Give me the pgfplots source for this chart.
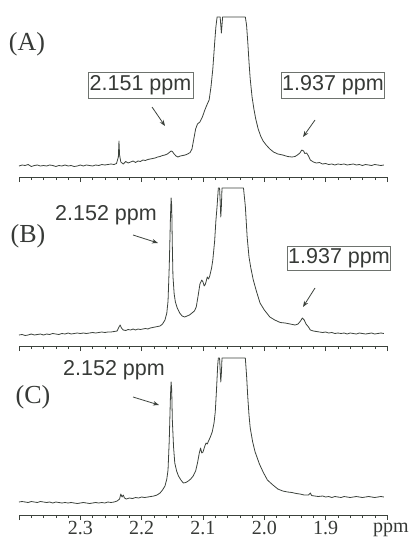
\documentclass[border=0pt]{standalone}
\usepackage{pgfplots}
\pgfplotsset{compat=1.18}
\usepackage{fontspec}
\setmainfont{Liberation Serif}
\newfontfamily\annfont{Liberation Sans}
\usetikzlibrary{arrows.meta}
\definecolor{linec}{RGB}{60,66,60}
\definecolor{txtc}{RGB}{55,58,55}
\definecolor{boxc}{RGB}{110,115,110}
\pgfplotsset{spec/.style={scale only axis, width=368pt, height=168pt,
  xmin=1.8, xmax=2.4, ymin=0, ymax=168, x dir=reverse,
  axis x line=bottom, axis y line=none,
  axis line style={-, draw=linec, line width=0.6pt},
  tick align=outside, xtick={1.8,1.9,2.0,2.1,2.2,2.3,2.4},
  minor x tick num=4, major tick length=5pt, minor tick length=3pt,
  tick style={draw=linec, line width=0.5pt},
  every tick/.style={draw=linec},
  clip=false, anchor=south west},
  specline/.style={draw=linec, line width=0.8pt, no marks, line join=round}}
\begin{document}
\begin{tikzpicture}
% ---------- Panel A ----------
\begin{axis}[spec, at={(19pt,-177pt)}, xticklabels={}]
\addplot[specline] coordinates {(2.400,11)(2.395,12)(2.390,11.5)(2.385,12.5)(2.380,10.5)(2.375,11.5)(2.370,12)(2.365,11)(2.360,11.5)(2.355,11)(2.350,12)(2.345,11.5)(2.340,10.5)(2.335,11.5)(2.330,11)(2.325,12)(2.320,11)(2.315,11.5)(2.310,10.5)(2.305,11)(2.300,12)(2.295,11)(2.290,12)(2.285,11.5)(2.280,11)(2.275,12)(2.270,11.5)(2.265,12.5)(2.260,12)(2.255,12.5)(2.250,13)(2.245,12.5)(2.241,13.5)(2.238,20)(2.237,36)(2.236,22)(2.234,15)(2.230,13)(2.226,15.5)(2.222,14)(2.218,15)(2.214,16)(2.210,14.5)(2.206,16)(2.202,15.5)(2.198,17)(2.194,16.5)(2.190,17.5)(2.186,18)(2.182,18.5)(2.178,19)(2.174,20)(2.170,20.5)(2.166,21.5)(2.162,22)(2.158,23)(2.155,24.5)(2.152,26)(2.150,25.5)(2.147,23)(2.144,21)(2.141,20)(2.137,21)(2.133,21.5)(2.129,22)(2.125,23)(2.121,24.5)(2.118,28)(2.115,38)(2.112,48)(2.109,53)(2.105,55)(2.101,60)(2.097,67)(2.093,73)(2.090,77)(2.087,90)(2.084,108)(2.081,134)(2.079,150)(2.077,160)(2.072,160)(2.071,152)(2.070,144)(2.069,152)(2.068,160)(2.031,160)(2.029,152)(2.027,135)(2.025,115)(2.023,98)(2.020,80)(2.017,68)(2.014,58)(2.010,48)(2.006,41)(2.002,36)(1.997,32)(1.991,28)(1.985,25)(1.978,23)(1.970,22)(1.962,20.5)(1.955,20)(1.950,20.5)(1.946,22)(1.942,24)(1.939,27)(1.936,26)(1.934,23.5)(1.931,24)(1.928,21)(1.925,17)(1.920,15)(1.915,14)(1.910,14.5)(1.905,13)(1.900,13.5)(1.895,12.5)(1.890,13)(1.885,12)(1.880,13)(1.875,12.5)(1.870,13)(1.865,12)(1.860,12.5)(1.855,13)(1.850,12)(1.845,12.5)(1.840,11.5)(1.835,12.5)(1.830,12)(1.825,11.5)(1.820,12.5)(1.815,12)(1.810,11.5)(1.805,12)};
\end{axis}
% ---------- Panel B ----------
\begin{axis}[spec, at={(19pt,-346pt)}, xticklabels={}]
\addplot[specline] coordinates {(2.400,11)(2.395,11.5)(2.390,10.5)(2.385,11)(2.380,12)(2.375,11)(2.370,11.5)(2.365,12)(2.360,11)(2.355,12)(2.350,11.5)(2.345,12.5)(2.340,12)(2.335,11.5)(2.330,12.5)(2.325,12)(2.320,13)(2.315,12)(2.310,12.5)(2.305,13)(2.300,12.5)(2.295,13)(2.290,12.5)(2.285,13)(2.280,13.5)(2.275,13)(2.270,13.5)(2.265,14)(2.260,13.5)(2.255,14)(2.250,14)(2.245,14.5)(2.240,15)(2.237,19)(2.235,21)(2.233,18)(2.230,16)(2.226,15.5)(2.222,16.5)(2.218,16)(2.214,17)(2.210,16)(2.206,17)(2.202,16.5)(2.198,17)(2.194,17.5)(2.190,17)(2.186,18)(2.182,18.5)(2.178,19)(2.174,19.5)(2.170,20)(2.166,22)(2.162,26)(2.159,33)(2.157,45)(2.155,80)(2.153,130)(2.152,148)(2.151,140)(2.150,100)(2.149,70)(2.147,52)(2.145,44)(2.142,38)(2.138,33)(2.134,30)(2.130,29)(2.126,30)(2.122,31)(2.118,33)(2.114,35)(2.111,39)(2.108,50)(2.105,62)(2.102,66)(2.100,64)(2.098,60)(2.096,62)(2.093,69)(2.091,67)(2.089,70)(2.086,78)(2.084,86)(2.081,105)(2.079,125)(2.077,140)(2.075,158)(2.073,158)(2.072,145)(2.071,129)(2.070,140)(2.069,158)(2.034,158)(2.031,140)(2.028,109)(2.025,89)(2.022,78)(2.018,66)(2.013,55)(2.007,43)(2.000,36)(1.991,29)(1.983,26)(1.974,23.5)(1.966,23)(1.958,22)(1.950,21)(1.945,22)(1.941,25)(1.938,28)(1.935,26)(1.932,22)(1.928,19)(1.925,16)(1.920,15)(1.915,14.5)(1.910,14)(1.905,13.5)(1.900,14)(1.895,13)(1.890,13.5)(1.885,12.5)(1.880,13)(1.875,12.5)(1.870,13)(1.865,12)(1.860,13)(1.855,12.5)(1.850,12)(1.845,13)(1.840,12.5)(1.835,12)(1.830,12.5)(1.825,13)(1.820,12)(1.815,12.5)(1.810,13)(1.805,12.5)};
\end{axis}
% ---------- Panel C ----------
\begin{axis}[spec, at={(19pt,-515pt)}, xticklabels={,1.9,2.0,2.1,2.2,2.3,},
  xticklabel style={font=\fontsize{20}{20}\selectfont, text=txtc, inner sep=1pt}]
\addplot[specline] coordinates {(2.400,13)(2.395,13.5)(2.390,13)(2.385,12.5)(2.380,13.5)(2.375,13)(2.370,12.5)(2.365,13.5)(2.360,13)(2.355,12.5)(2.350,13)(2.345,12)(2.340,13)(2.335,12.5)(2.330,12)(2.325,12.5)(2.320,12)(2.315,12.5)(2.310,12)(2.305,11.5)(2.300,12)(2.295,12.5)(2.290,12)(2.285,11.5)(2.280,12)(2.275,12.5)(2.270,12)(2.265,12.5)(2.260,12)(2.255,13)(2.250,12.5)(2.245,13)(2.240,14)(2.236,16)(2.234,21)(2.232,18)(2.230,20)(2.228,17)(2.225,16)(2.220,17)(2.215,16.5)(2.210,17.5)(2.205,17)(2.200,18)(2.195,17.5)(2.190,18)(2.185,18.5)(2.180,19)(2.175,20)(2.170,22)(2.166,25)(2.162,29)(2.159,36)(2.157,45)(2.155,75)(2.153,120)(2.152,133)(2.151,125)(2.150,95)(2.148,68)(2.146,52)(2.143,44)(2.140,39)(2.136,35)(2.132,32)(2.128,32.5)(2.124,34)(2.120,36)(2.116,39)(2.112,44)(2.109,52)(2.106,62)(2.104,67)(2.102,62)(2.100,63)(2.097,69)(2.095,72)(2.093,71)(2.091,74)(2.088,78)(2.085,83)(2.082,92)(2.080,103)(2.078,125)(2.076,150)(2.075,157)(2.073,157)(2.072,145)(2.071,133)(2.070,142)(2.069,157)(2.031,157)(2.029,140)(2.027,118)(2.025,100)(2.023,87)(2.019,73)(2.015,63)(2.008,51)(2.002,43)(1.995,35)(1.986,30)(1.978,26)(1.970,24)(1.962,23)(1.955,22.5)(1.948,21.5)(1.942,21)(1.935,20)(1.928,20)(1.925,22)(1.923,19.5)(1.918,19)(1.912,18.5)(1.905,19)(1.900,18)(1.895,18.5)(1.890,17.5)(1.885,18.5)(1.880,18)(1.875,17.5)(1.870,18.5)(1.865,18)(1.860,17.5)(1.855,18)(1.850,18.5)(1.845,18)(1.840,17.5)(1.835,18)(1.830,18.5)(1.825,18)(1.820,17.5)(1.815,18)(1.810,18.5)(1.805,18)};
\end{axis}
% ---------- annotations ----------
\begin{scope}[text=txtc]
\node[font=\fontsize{26}{26}\selectfont] at (27pt,-44pt) {(A)};
\node[font=\fontsize{26}{26}\selectfont] at (28pt,-236pt) {(B)};
\node[font=\fontsize{26}{26}\selectfont] at (33pt,-397pt) {(C)};
\node[draw=boxc, line width=0.6pt, minimum width=105pt, minimum height=26pt, inner sep=0pt,
  font=\annfont\fontsize{21.5}{21.5}\selectfont] at (140.5pt,-85pt) {2.151 ppm};
\node[draw=boxc, line width=0.6pt, minimum width=103pt, minimum height=26pt, inner sep=0pt,
  font=\annfont\fontsize{21.5}{21.5}\selectfont] at (333pt,-85pt) {1.937 ppm};
\node[font=\annfont\fontsize{21.5}{21.5}\selectfont] at (106pt,-215pt) {2.152 ppm};
\node[draw=boxc, line width=0.6pt, minimum width=103pt, minimum height=24pt, inner sep=0pt,
  font=\annfont\fontsize{21.5}{21.5}\selectfont] at (339pt,-258pt) {1.937 ppm};
\node[font=\annfont\fontsize{21.5}{21.5}\selectfont] at (114pt,-370pt) {2.152 ppm};
\node[anchor=base west, font=\fontsize{20}{20}\selectfont, inner sep=0pt] at (373pt,-532pt) {ppm};
\end{scope}
\begin{scope}[draw=linec, line width=0.8pt, -{Stealth[length=6pt,width=4.5pt]}]
\draw (152pt,-107pt) -- (165pt,-126pt);
\draw (315pt,-120pt) -- (303pt,-137pt);
\draw (133pt,-235pt) -- (158pt,-243pt);
\draw (315pt,-288pt) -- (303pt,-307pt);
\draw (133pt,-397pt) -- (159pt,-405pt);
\end{scope}
\pgfresetboundingbox
\useasboundingbox (0pt,0pt) rectangle (410pt,-540pt);
\end{tikzpicture}
\end{document}
